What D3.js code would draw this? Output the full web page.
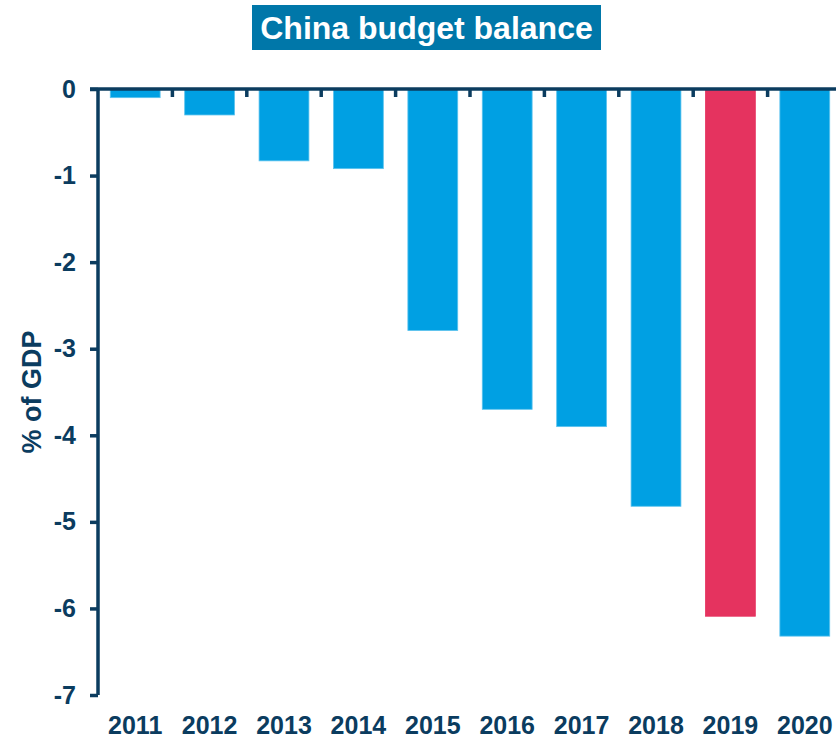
<!DOCTYPE html>
<html><head><meta charset="utf-8">
<script src="https://cdn.jsdelivr.net/npm/d3@7"></script>
<style>body{margin:0;background:#fff}svg{display:block;font-family:"Liberation Sans",Arial,sans-serif}</style>
</head><body>
<svg id="c" width="836" height="740"></svg>
<script>
const years = ["2011","2012","2013","2014","2015","2016","2017","2018","2019","2020"];
const balance = [-0.10,-0.30,-0.83,-0.92,-2.79,-3.70,-3.90,-4.82,-6.09,-6.32];
const highlightYear = "2019";
const yTicks = [0,-1,-2,-3,-4,-5,-6,-7];
const title = "China budget balance";
const yLabel = "% of GDP";

const navy = "#0B3C5F";
const svg = d3.select("#c");
const x = d3.scaleBand().domain(years).range([98, 842]).paddingInner(0.33).paddingOuter(0.165);
const y = d3.scaleLinear().domain([-7, 0]).range([695, 89]);

// bars
svg.append("g").selectAll("rect").data(years).join("rect")
  .attr("x", d => x(d))
  .attr("width", x.bandwidth())
  .attr("y", y(0))
  .attr("height", (d,i) => y(balance[i]) - y(0))
  .attr("fill", d => d === highlightYear ? "#E5335F" : "#00A0E3")
  .attr("stroke", d => d === highlightYear ? "#E5335F" : "#5CC3EE")
  .attr("stroke-width", 0.8);

// y axis
const yAxis = svg.append("g").attr("transform","translate(98,0)")
  .call(d3.axisLeft(y).tickValues(yTicks).tickFormat(d3.format("d")).tickSize(8).tickPadding(14));
yAxis.select(".domain").attr("stroke", navy).attr("stroke-width", 3.5).attr("d", `M0,${y(0)}V${y(-7)}`);
yAxis.selectAll(".tick line").attr("stroke", navy).attr("stroke-width", 3.5);
yAxis.selectAll(".tick text").attr("fill", navy).attr("font-size", 25).attr("font-weight","bold")
  .attr("font-family", '"Liberation Sans",Arial,sans-serif').text(d => d === 0 ? "0" : "-" + Math.abs(d));

// x axis at zero line with category boundary ticks
const bounds = years.slice(1).map(d => x(d) - x.step()*x.paddingInner()/2);
svg.append("line").attr("x1", 90).attr("x2", 836).attr("y1", y(0)).attr("y2", y(0))
  .attr("stroke", navy).attr("stroke-width", 3.5);
svg.append("g").selectAll("line").data(bounds).join("line")
  .attr("x1", d => d).attr("x2", d => d).attr("y1", y(0)).attr("y2", y(0) + 8)
  .attr("stroke", navy).attr("stroke-width", 3.5);

// year labels
svg.append("g").selectAll("text").data(years).join("text")
  .attr("x", d => x(d) + x.bandwidth()/2).attr("y", 734)
  .attr("text-anchor","middle").attr("fill", navy).attr("font-size", 25).attr("font-weight","bold")
  .text(d => d);

// y label
svg.append("text").attr("transform","translate(41,392) rotate(-90)")
  .attr("text-anchor","middle").attr("fill", navy).attr("font-size", 27).attr("font-weight","bold")
  .text(yLabel);

// title
svg.append("rect").attr("x",252).attr("y",5).attr("width",349).attr("height",45).attr("fill","#0077A9");
svg.append("text").attr("x",426.5).attr("y",39).attr("text-anchor","middle").attr("fill","#fff")
  .attr("font-size",32).attr("font-weight","bold").text(title);
</script>
</body></html>
